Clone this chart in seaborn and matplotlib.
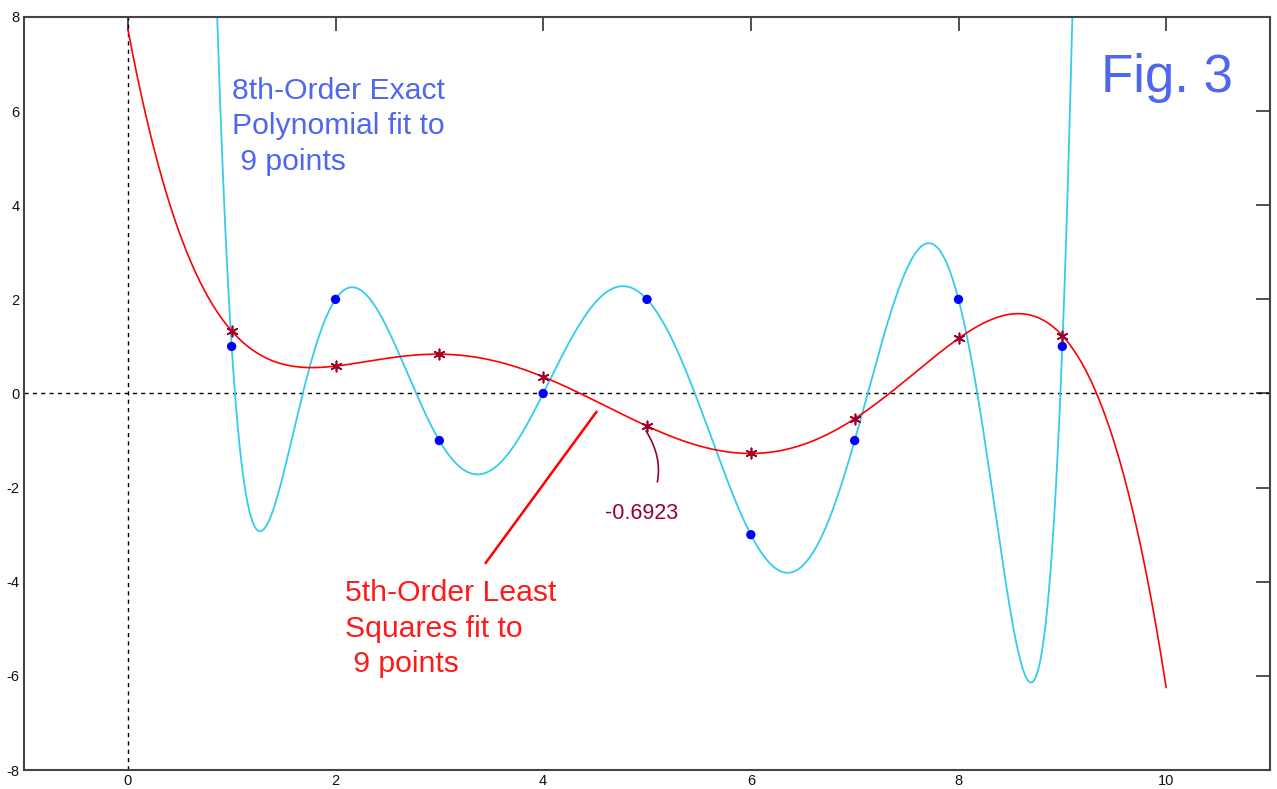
import numpy as np
import pandas as pd
import matplotlib
matplotlib.use("Agg")
import matplotlib.pyplot as plt
import seaborn as sns

# Data points
x_pts = [1, 2, 3, 4, 5, 6, 7, 8, 9]
y_pts = [1, 2, -1, 0, 2, -3, -1, 2, 1]

x_ticks = [0, 2, 4, 6, 8, 10]
y_ticks = [-8, -6, -4, -2, 0, 2, 4, 6, 8]

exact_label = "8th-Order Exact\nPolynomial fit to\n 9 points"
ls_label = "5th-Order Least\nSquares fit to\n 9 points"
fig_label = "Fig. 3"

# Fits computed from the data points
c8 = np.polyfit(x_pts, y_pts, 8)
c5 = np.polyfit(x_pts, y_pts, 5)
xs = np.linspace(0, 10, 2001)
df_exact = pd.DataFrame({"x": xs, "y": np.polyval(c8, xs)})
df_ls = pd.DataFrame({"x": xs, "y": np.polyval(c5, xs)})
df_pts = pd.DataFrame({"x": x_pts, "y": y_pts})
df_ls_pts = pd.DataFrame({"x": x_pts, "y": np.polyval(c5, x_pts)})
val5 = np.polyval(c5, 5)

sns.set_style("white")
plt.rcParams["font.family"] = ["Liberation Sans", "DejaVu Sans"]
plt.rcParams["axes.unicode_minus"] = False

fig = plt.figure(figsize=(12.77, 7.89), dpi=100)
ax = fig.add_axes([24 / 1277, 19 / 789, 1246 / 1277, 753 / 789])

ax.axhline(0, color="black", lw=1, ls=(0, (3, 3)), zorder=1)
ax.axvline(0, color="black", lw=1, ls=(0, (3, 3)), zorder=1)

sns.lineplot(data=df_exact, x="x", y="y", ax=ax, color="#33CCEE", lw=1.3,
             estimator=None, sort=False, zorder=2)
sns.lineplot(data=df_ls, x="x", y="y", ax=ax, color="#FF0000", lw=1.2,
             estimator=None, sort=False, zorder=3)
sns.scatterplot(data=df_pts, x="x", y="y", ax=ax, color="#0000FF", s=45,
                edgecolor="none", zorder=4)
ax.scatter(df_ls_pts["x"], df_ls_pts["y"], marker=(6, 2, 0), s=55,
           color="#99002E", linewidths=1.2, zorder=5)

ax.set_xlim(-1, 11)
ax.set_ylim(-8, 8)
ax.set_xticks(x_ticks)
ax.set_yticks(y_ticks)
ax.set_xlabel("")
ax.set_ylabel("")
ax.tick_params(direction="in", length=10, width=1.2, color="#333333",
               labelsize=10.5, pad=3, top=True, right=True, labelcolor="#111111")
for s in ax.spines.values():
    s.set_color("#444444")
    s.set_linewidth(1.5)
    s.set_visible(True)

ax.text(1.0, 5.68, exact_label, color="#4F66F0", fontsize=21.7,
        va="center", ha="left", linespacing=1.34)
ax.text(2.09, -5.0, ls_label, color="#FF1A1A", fontsize=21.7,
        va="center", ha="left", linespacing=1.34)
ax.text(9.37, 6.7, fig_label, color="#4F66F0", fontsize=38,
        va="center", ha="left")

ax.annotate("", xy=(4.53, -0.34), xytext=(3.43, -3.65),
            arrowprops=dict(arrowstyle="-", color="#FF0000", lw=1.8))
ax.annotate(f"{val5:.4f}", xy=(4.99, val5 - 0.1), xytext=(4.95, -2.56),
            color="#99002E", fontsize=15.5, ha="center", va="center",
            arrowprops=dict(arrowstyle="-", color="#99002E", lw=1.2,
                            connectionstyle="arc3,rad=0.35",
                            shrinkA=14, shrinkB=0))

fig.savefig("out.png", dpi=100)
